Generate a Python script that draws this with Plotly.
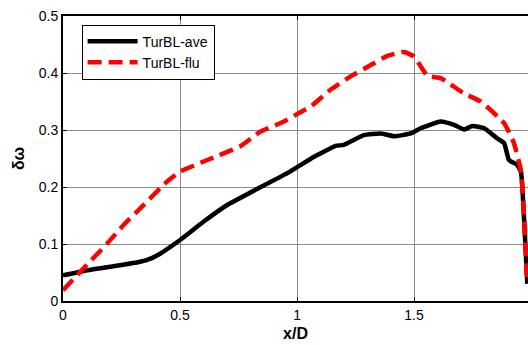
import plotly.graph_objects as go

x_ave = [0, 0.05, 0.09, 0.2, 0.32, 0.36, 0.415, 0.5, 0.6, 0.7, 0.86, 0.97, 1.073, 1.165, 1.2,
         1.286, 1.358, 1.415, 1.486, 1.528, 1.614, 1.671, 1.714, 1.749, 1.8, 1.856,
         1.885, 1.906, 1.94, 1.957, 1.972, 1.984]
y_ave = [0.045, 0.049, 0.053, 0.06, 0.068, 0.072, 0.083, 0.107, 0.139, 0.168, 0.203, 0.227, 0.253,
         0.272, 0.274, 0.291, 0.294, 0.289, 0.294, 0.303, 0.315, 0.309, 0.301, 0.307, 0.303,
         0.285, 0.277, 0.247, 0.239, 0.226, 0.13, 0.03]

x_flu = [0, 0.087, 0.187, 0.258, 0.329, 0.443, 0.5, 0.614, 0.756, 0.842, 0.859, 0.944,
         1.009, 1.058, 1.144, 1.229, 1.315, 1.386, 1.457, 1.5, 1.557, 1.614, 1.714, 1.785,
         1.885, 1.927, 1.958, 1.972, 1.984]
y_flu = [0.019, 0.057, 0.1, 0.133, 0.162, 0.209, 0.227, 0.247, 0.271, 0.297, 0.3, 0.315,
         0.33, 0.341, 0.371, 0.394, 0.414, 0.43, 0.437, 0.429, 0.395, 0.391, 0.364, 0.35,
         0.312, 0.277, 0.226, 0.13, 0.03]

x_ticks = [0, 0.5, 1, 1.5]
y_ticks = [0, 0.1, 0.2, 0.3, 0.4, 0.5]

fig = go.Figure()
fig.add_trace(go.Scatter(x=x_ave, y=y_ave, mode="lines", name="TurBL-ave",
                         line=dict(color="black", width=4.5, shape="spline", smoothing=0.4)))
fig.add_trace(go.Scatter(x=x_flu, y=y_flu, mode="lines", name="TurBL-flu",
                         line=dict(color="red", width=4.5, dash="14px,7px",
                                   shape="spline", smoothing=0.4)))

font = dict(family="Liberation Sans, Arial, sans-serif", size=14, color="black")
fig.update_layout(
    width=528, height=345,
    margin=dict(l=63, r=0, t=16, b=44),
    paper_bgcolor="white", plot_bgcolor="white",
    font=font,
    showlegend=True,
    legend=dict(x=0.04, y=0.97, xanchor="left", yanchor="top",
                bgcolor="white", bordercolor="black", borderwidth=1,
                font=dict(family="Liberation Sans, Arial, sans-serif", size=14),
                itemwidth=50, tracegroupgap=2),
)
fig.update_xaxes(range=[0, 1.987], tickvals=x_ticks, ticktext=["0", "0.5", "1", "1.5"],
                 showgrid=True, gridcolor="#8c8c8c", gridwidth=1,
                 showline=True, linecolor="black", linewidth=2, mirror="ticks",
                 ticks="inside", ticklen=4, tickcolor="black", zeroline=False,
                 title=dict(text="<b>x/D</b>", font=dict(size=16), standoff=6))
fig.update_yaxes(range=[0, 0.5], tickvals=y_ticks,
                 ticktext=["0", "0.1", "0.2", "0.3", "0.4", "0.5"],
                 showgrid=True, gridcolor="#8c8c8c", gridwidth=1,
                 showline=True, linecolor="black", linewidth=2,
                 ticks="inside", ticklen=4, tickcolor="black", zeroline=False,
                 title=dict(text="<b>δω</b>", font=dict(size=16), standoff=10))

fig.write_html("out.html")
